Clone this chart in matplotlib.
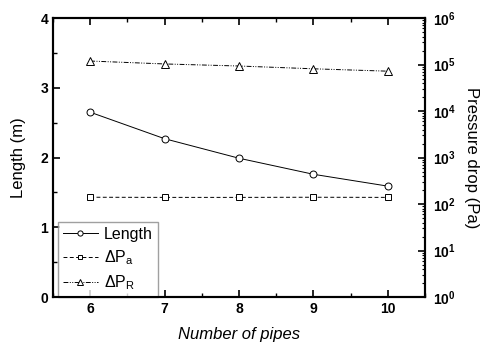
import matplotlib
matplotlib.use("Agg")
import matplotlib.pyplot as plt
from matplotlib.ticker import MultipleLocator, LogLocator, NullFormatter

plt.rcParams['font.family'] = ['Liberation Sans', 'DejaVu Sans']
plt.rcParams['mathtext.fontset'] = 'custom'
plt.rcParams['mathtext.rm'] = 'Liberation Sans'
plt.rcParams['mathtext.it'] = 'Liberation Sans:italic'
plt.rcParams['mathtext.bf'] = 'Liberation Sans:bold'

pipes = [6, 7, 8, 9, 10]
length_m = [2.65, 2.27, 1.99, 1.76, 1.59]
dp_a = [140, 139, 139, 140, 139]
dp_r = [1.19e5, 1.03e5, 9.3e4, 8.1e4, 7.2e4]

fig = plt.figure(figsize=(4.86, 3.47), dpi=100)
ax = fig.add_axes([0.109, 0.144, 0.7655, 0.804])
ax2 = ax.twinx()

lw = 0.7
l1, = ax.plot(pipes, length_m, '-', color='black', lw=lw, marker='o', ms=5,
              mfc='white', mec='black', mew=0.7, label='Length')
l2, = ax2.plot(pipes, dp_a, '--', color='black', lw=lw, marker='s', ms=4.5,
               mfc='white', mec='black', mew=0.7, dashes=(4, 2.5), label=r'$\Delta$P$_{\rm a}$')
l3, = ax2.plot(pipes, dp_r, color='black', lw=lw, marker='^', ms=5.5,
               mfc='white', mec='black', mew=0.7, dashes=(5, 1.5, 1, 1.5, 1, 1.5),
               label=r'$\Delta$P$_{\rm R}$')

ax.set_xlim(5.5, 10.5)
ax.set_ylim(0, 4)
ax2.set_yscale('log')
ax2.set_ylim(1, 1e6)

ax.xaxis.set_major_locator(MultipleLocator(1))
ax.xaxis.set_minor_locator(MultipleLocator(0.5))
ax.yaxis.set_major_locator(MultipleLocator(1))
ax.yaxis.set_minor_locator(MultipleLocator(0.5))
ax2.yaxis.set_minor_locator(LogLocator(base=10, subs=range(2, 10), numticks=20))
ax2.yaxis.set_minor_formatter(NullFormatter())
ax2.set_yticks([10**k for k in range(7)])
ax2.set_yticklabels([r'$\mathbf{10^{%d}}$' % k for k in range(7)])

for a in (ax, ax2):
    for s in a.spines.values():
        s.set_linewidth(1.5)

ax.tick_params(axis='both', which='major', direction='in', length=5, width=1.2,
               top=True, labelsize=10)
ax.tick_params(axis='both', which='minor', direction='in', length=3, width=1.0, top=True)
ax.tick_params(axis='y', right=False, which='both')
ax2.tick_params(axis='y', which='major', direction='in', length=5, width=1.2, labelsize=10, pad=6)
ax2.tick_params(axis='y', which='minor', direction='in', length=2.5, width=0.8)
for lab in ax.get_xticklabels() + ax.get_yticklabels():
    lab.set_fontweight('bold')

ax.set_xlabel('Number of pipes', fontsize=12, style='italic', labelpad=8)
ax.set_ylabel('Length (m)', fontsize=12, labelpad=10)
ax2.set_ylabel('Pressure drop (Pa)', fontsize=12, rotation=270, labelpad=16)

leg = ax.legend(handles=[l1, l2, l3], loc='lower left', bbox_to_anchor=(0.013, 0.0),
                borderaxespad=0, fontsize=11.5, handlelength=2.2, handletextpad=0.4,
                labelspacing=0.4, frameon=True, fancybox=False, borderpad=0.3,
                markerscale=0.75)
leg.get_frame().set_edgecolor('#888888')
leg.get_frame().set_linewidth(1.0)
leg.set_zorder(10)

fig.savefig('out.png', dpi=100)
